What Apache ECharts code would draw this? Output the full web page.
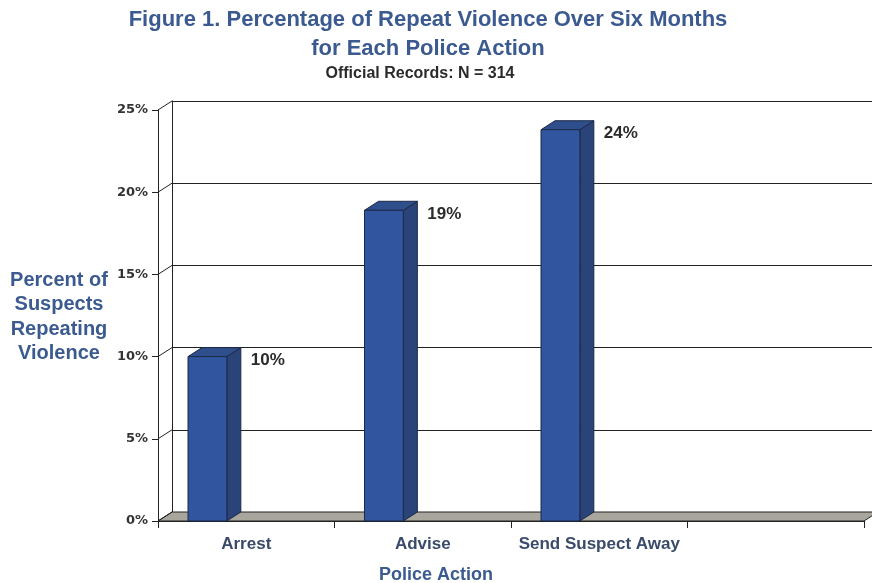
<!DOCTYPE html>
<html>
<head>
<meta charset="utf-8">
<script src="https://cdn.jsdelivr.net/npm/echarts@6/dist/echarts.min.js"></script>
<style>
  html, body { margin: 0; padding: 0; background: #fff; }
  #chart { width: 872px; height: 583px; }
</style>
</head>
<body>
<div id="chart"></div>
<script>
// data
const categories = ['Arrest', 'Advise', 'Send Suspect Away', '']
const repeatPct = [10, 18.9, 23.8]
const barLabels = ['10%', '19%', '24%']
const yTicks = [0, 5, 10, 15, 20, 25]

// depth of the fake 3D box (pixels)
const DX = 14
const DY = -9

const blue = '#3b5a8f'
const edge = '#1c2947'

let chart = echarts.init(document.getElementById('chart'))

chart.setOption({
  backgroundColor: '#fff',
  animation: false,
  title: [
    {
      text: 'Figure 1. Percentage of Repeat Violence Over Six Months\nfor Each Police Action',
      left: 423,
      top: 0,
      textAlign: 'center',
      textStyle: { fontFamily: 'Liberation Sans', fontWeight: 'bold', fontSize: 22, lineHeight: 29, color: blue, align: 'center' },
    },
    {
      text: 'Official Records: N = 314',
      left: 415,
      top: 61,
      textAlign: 'center',
      textStyle: { fontFamily: 'Liberation Sans', fontWeight: 'bold', fontSize: 16, color: '#2b2b2b' },
    },
    {
      text: 'Percent of\nSuspects\nRepeating\nViolence',
      left: 54,
      top: 263,
      textAlign: 'center',
      textStyle: { fontFamily: 'Liberation Sans', fontWeight: 'bold', fontSize: 20, lineHeight: 24.5, color: blue, align: 'center' },
    },
    {
      text: 'Police Action',
      left: 431,
      top: 561,
      textAlign: 'center',
      textStyle: { fontFamily: 'Liberation Sans', fontWeight: 'bold', fontSize: 18, color: blue },
    },
  ],
  grid: [
    // front plane: axes, ticks, labels
    { left: 158, top: 110, right: 8, bottom: 62 },
    // back wall: gridlines
    { left: 158 + DX, top: 110 + DY, right: 8 - DX, bottom: 62 - DY },
  ],
  xAxis: [
    {
      gridIndex: 0,
      type: 'category',
      data: categories,
      boundaryGap: true,
      axisLine: { lineStyle: { color: '#222', width: 1 } },
      axisTick: { show: true, interval: 0, length: 7, lineStyle: { color: '#222' } },
      axisLabel: {
        interval: 0,
        margin: 15,
        fontFamily: 'Liberation Sans',
        fontWeight: 'bold',
        fontSize: 17,
        color: '#3a4a6b',
      },
      splitLine: { show: false },
    },
    {
      gridIndex: 1,
      type: 'category',
      data: categories,
      show: false,
    },
  ],
  yAxis: [
    {
      gridIndex: 0,
      type: 'value',
      min: 0,
      max: 25,
      interval: 5,
      axisLine: { show: true, lineStyle: { color: '#222' } },
      axisTick: { show: true, length: 6, lineStyle: { color: '#222' } },
      axisLabel: {
        formatter: '{value}%',
        margin: 10,
        fontFamily: 'DejaVu Sans',
        fontWeight: 'bold',
        fontSize: 13,
        color: '#333',
      },
      splitLine: { show: false },
    },
    {
      gridIndex: 1,
      type: 'value',
      min: 0,
      max: 25,
      interval: 5,
      axisLine: { show: true, lineStyle: { color: '#222' } },
      axisTick: { show: false },
      axisLabel: { show: false },
      splitLine: { show: true, lineStyle: { color: '#222', width: 1 } },
    },
  ],
  series: [
    {
      // floor of the 3D box
      type: 'custom',
      xAxisIndex: 0,
      yAxisIndex: 0,
      z: 1,
      silent: true,
      data: [[0, 0]],
      renderItem: function (params, api) {
        let cs = params.coordSys
        let yb = api.coord([0, 0])[1]
        return {
          type: 'polygon',
          shape: {
            points: [
              [cs.x, yb],
              [cs.x + cs.width, yb],
              [cs.x + cs.width + DX, yb + DY],
              [cs.x + DX, yb + DY],
            ],
          },
          style: { fill: '#a9a79d', stroke: '#222', lineWidth: 1 },
        }
      },
    },
    {
      // slanted connectors from front ticks to back wall
      type: 'custom',
      xAxisIndex: 0,
      yAxisIndex: 0,
      z: 2,
      silent: true,
      data: yTicks.map((v) => [0, v]),
      renderItem: function (params, api) {
        let cs = params.coordSys
        let y = api.coord([0, api.value(1)])[1]
        return {
          type: 'line',
          shape: { x1: cs.x, y1: y, x2: cs.x + DX, y2: y + DY },
          style: { stroke: '#222', lineWidth: 1 },
        }
      },
    },
    {
      // 3D columns
      type: 'custom',
      xAxisIndex: 0,
      yAxisIndex: 0,
      z: 5,
      data: repeatPct.map((v, i) => [i, v]),
      renderItem: function (params, api) {
        let i = api.value(0)
        let top = api.coord([i, api.value(1)])
        let base = api.coord([i, 0])
        let slot = api.size([1, 0])[0]
        let x0 = top[0] - slot * 0.33
        let x1 = x0 + slot * 0.22
        let yt = top[1]
        let yb = base[1]
        return {
          type: 'group',
          children: [
            {
              type: 'polygon',
              shape: { points: [[x1, yt], [x1 + DX, yt + DY], [x1 + DX, yb + DY], [x1, yb]] },
              style: { fill: '#2a4379', stroke: edge, lineWidth: 1 },
            },
            {
              type: 'polygon',
              shape: { points: [[x0, yt], [x1, yt], [x1 + DX, yt + DY], [x0 + DX, yt + DY]] },
              style: { fill: '#2f4e8c', stroke: edge, lineWidth: 1 },
            },
            {
              type: 'rect',
              shape: { x: x0, y: yt, width: x1 - x0, height: yb - yt },
              style: { fill: '#31569f', stroke: edge, lineWidth: 1 },
            },
            {
              type: 'text',
              style: {
                text: barLabels[i],
                x: x1 + DX + 10,
                y: yt + 4,
                verticalAlign: 'middle',
                align: 'left',
                font: 'bold 17px "Liberation Sans"',
                fill: '#2b2b2b',
              },
            },
          ],
        }
      },
    },
  ],
})
</script>
</body>
</html>
